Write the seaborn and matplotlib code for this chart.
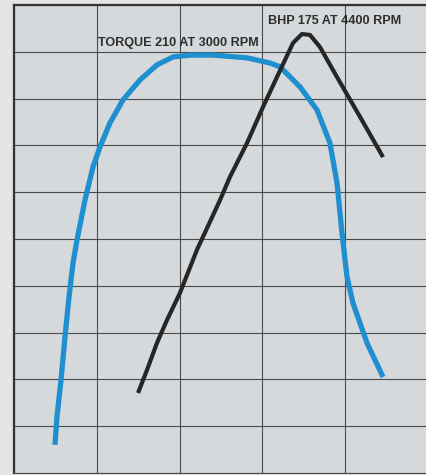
import matplotlib
matplotlib.use("Agg")
import matplotlib.pyplot as plt
import seaborn as sns
import pandas as pd

# Torque curve (x in RPM, y in grid rows)
torque_rpm = [1495, 1519, 1568, 1616, 1664, 1713, 1761, 1857, 1954, 2039, 2159, 2316,
              2522, 2727, 2920, 3126, 3403, 3814, 4092, 4213, 4454, 4659, 4816, 4901,
              4961, 5022, 5094, 5263, 5457]
torque_val = [0.60, 1.20, 1.99, 2.91, 3.76, 4.49, 4.98, 5.83, 6.54, 6.97, 7.48, 7.97,
              8.40, 8.72, 8.89, 8.93, 8.93, 8.87, 8.76, 8.68, 8.25, 7.76, 7.05, 6.20,
              5.13, 4.19, 3.63, 2.78, 2.05]

# BHP curve
bhp_rpm = [2498, 2606, 2727, 2848, 3005, 3210, 3488, 3609, 3814, 4007, 4176,
           4370, 4478, 4575, 4696, 4901, 5179, 5457]
bhp_val = [1.71, 2.20, 2.78, 3.27, 3.85, 4.77, 5.83, 6.33, 7.05, 7.82, 8.46,
           9.19, 9.38, 9.36, 9.10, 8.46, 7.61, 6.75]

torque_label = "TORQUE 210 AT 3000 RPM"
bhp_label = "BHP 175 AT 4400 RPM"

sns.set_theme(style="white")
plt.rcParams['font.family'] = ['Liberation Sans', 'DejaVu Sans']

fig = plt.figure(figsize=(4.27, 4.75), dpi=100, facecolor="#e2e4e6")
ax = fig.add_axes([14/427, 2/475, 414/427, 468/475])
ax.set_facecolor("#d6d9db")

df_t = pd.DataFrame({"rpm": torque_rpm, "v": torque_val})
df_b = pd.DataFrame({"rpm": bhp_rpm, "v": bhp_val})

ax.set_xlim(1000, 6000)
ax.set_ylim(0, 10)
ax.set_xticks(range(1000, 6001, 1000))
ax.set_yticks(range(0, 11))
ax.grid(True, color="#4a4a4a", linewidth=0.8)
ax.set_axisbelow(True)
ax.tick_params(length=0, labelbottom=False, labelleft=False)

sns.lineplot(data=df_t, x="rpm", y="v", sort=False, estimator=None, ax=ax,
             color="#1f8fd0", linewidth=3.8, solid_capstyle="butt",
             solid_joinstyle="round")
sns.lineplot(data=df_b, x="rpm", y="v", sort=False, estimator=None, ax=ax,
             color="#262626", linewidth=3.0, solid_capstyle="butt",
             solid_joinstyle="round")
ax.set_xlabel("")
ax.set_ylabel("")

for side in ["left", "top"]:
    ax.spines[side].set_color("#333333")
    ax.spines[side].set_linewidth(1.6)
ax.spines["bottom"].set_color("#4a4a4a")
ax.spines["bottom"].set_linewidth(0.8)
ax.spines["right"].set_visible(False)

ax.text(2981, 9.19, torque_label, ha="center", va="center", fontsize=9.1,
        fontweight="bold", color="#2e2e2e")
ax.text(4877, 9.66, bhp_label, ha="center", va="center", fontsize=9.1,
        fontweight="bold", color="#2e2e2e")

fig.savefig("out.png", dpi=100, facecolor=fig.get_facecolor())
